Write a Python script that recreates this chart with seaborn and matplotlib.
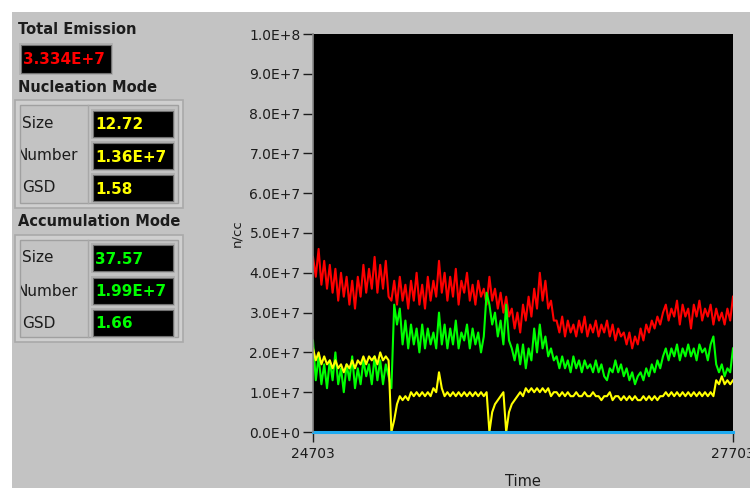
import numpy as np
import pandas as pd
import matplotlib
matplotlib.use("Agg")
import matplotlib.pyplot as plt
from matplotlib.patches import Rectangle
from matplotlib.transforms import Bbox
import seaborn as sns

# ---------------- data (values in millions n/cc, one sample every 20 time units) -------------
t_start = 24703
t_end = 27703
t_step = 20

total_red = [44, 39, 46, 37, 43, 36, 42, 35, 41, 33, 40, 34, 39, 32, 38, 31, 39, 34, 42, 35,
             41, 36, 44, 35, 42, 36, 43, 34, 33,
             38, 32, 39, 33, 37, 31, 38, 33, 40, 32, 37, 31, 39, 33, 38, 34, 43,
             35, 40, 33, 39, 34, 41, 32, 38, 35, 40, 33, 37, 32, 38, 34, 36, 32,
             39, 33, 36, 31, 35, 30, 34, 29, 31, 26, 30, 25, 32, 28, 34, 29, 36, 31,
             40, 33, 38, 31, 33, 28,
             28, 25, 29, 24, 28, 25, 27, 24, 28, 25, 29, 24, 27, 25, 28, 24, 27, 25, 28, 24,
             27, 23, 26, 24, 25, 22, 25, 21, 24, 22,
             26, 23, 27, 25, 28, 26, 29, 27, 30,
             32, 28, 31, 29, 33, 27, 32, 29, 31, 26, 32, 29, 33, 28, 31, 29, 32, 27, 31, 28,
             30, 27, 31, 28, 34]

accum_green = [23, 13, 19, 12, 17, 11, 18, 13, 20, 12, 16, 10, 17, 13, 19, 11, 16, 12, 18, 14,
               17, 12, 19, 13, 18, 12, 17, 14, 11,
               32, 27, 31, 22, 28, 21, 27, 22, 26, 20, 27, 21, 26, 22, 25, 21, 30,
               22, 27, 21, 26, 22, 28, 21, 25, 23, 27, 21, 26, 22, 25, 20, 24, 35,
               32, 27, 30, 24, 28, 22, 32, 23, 21, 18, 22, 17, 22, 16, 21, 18, 26, 20,
               27, 21, 24, 19, 21, 18,
               19, 16, 19, 16, 18, 15, 19, 16, 18, 15, 18, 16, 17, 15, 18, 15, 17, 14, 13, 16,
               15, 18, 15, 17, 14, 16, 13, 15, 12, 14,
               15, 13, 16, 14, 17, 15, 18, 16, 19,
               21, 18, 21, 19, 22, 18, 21, 19, 22, 19, 21, 18, 22, 20, 21, 18, 22, 24, 17, 15,
               17, 14, 16, 15, 21]

nucl_yellow = [21, 18, 20, 17, 19, 17, 18, 16, 18, 16, 17, 15, 17, 16, 18, 16, 18, 17, 19, 17,
               19, 18, 19, 17, 20, 18, 19, 18, 0,
               3, 7, 9, 8, 9, 8, 10, 9, 10, 9, 10, 9, 10, 9, 11, 10, 15,
               11, 9, 10, 9, 10, 9, 10, 9, 10, 9, 10, 9, 10, 9, 10, 9, 10,
               0, 5, 7, 8, 9, 10, 0, 5, 7, 8, 9, 10, 9, 11, 10, 11, 10, 11,
               10, 11, 10, 11, 9, 10,
               10, 9, 10, 9, 10, 9, 9, 10, 9, 9, 10, 9, 9, 10, 9, 9, 8, 9, 9, 10,
               8, 9, 9, 8, 9, 8, 9, 8, 9, 8,
               8, 9, 8, 9, 8, 9, 8, 9, 9,
               10, 9, 10, 9, 10, 9, 10, 9, 10, 9, 10, 9, 10, 9, 10, 9, 10, 9, 13, 12,
               14, 12, 13, 12, 13]

zero_blue = [0] * len(total_red)

y_ticks = [0, 1e7, 2e7, 3e7, 4e7, 5e7, 6e7, 7e7, 8e7, 9e7, 1e8]
y_tick_labels = ["0.0E+0", "1.0E+7", "2.0E+7", "3.0E+7", "4.0E+7", "5.0E+7",
                 "6.0E+7", "7.0E+7", "8.0E+7", "9.0E+7", "1.0E+8"]
x_ticks = [24703, 27703]
x_tick_labels = ["24703", "27703"]

total_emission = "3.334E+7"
nucl_values = ["12.72", "1.36E+7", "1.58"]
accum_values = ["37.57", "1.99E+7", "1.66"]
row_labels = ["Size", "Number", "GSD"]

time = np.arange(t_start, t_end + 1, t_step)
df = pd.DataFrame({
    "time": time,
    "red": np.array(total_red) * 1e6,
    "green": np.array(accum_green) * 1e6,
    "yellow": np.array(nucl_yellow) * 1e6,
    "blue": np.array(zero_blue) * 1e6,
})

# ---------------- figure ----------------
W, H = 750, 488
BG = "#c3c3c3"
TXT = "#1c1c1c"
plt.rcParams["font.family"] = ["DejaVu Sans"]

fig = plt.figure(figsize=(W / 100, H / 100), dpi=100, facecolor="white")


def fx(x):
    return x / W


def fy(y):
    return 1 - y / H


# gray panel (white strip on top and left)
fig.patches.append(Rectangle((fx(12), 0), 1 - fx(12), fy(12), transform=fig.transFigure,
                             facecolor=BG, edgecolor="none", zorder=-10))

# plot axes
L, R, T, B = 313, 733, 34, 432
ax = fig.add_axes([fx(L), fy(B), fx(R) - fx(L), fy(T) - fy(B)])
ax.set_zorder(5)
ax.set_facecolor("black")

sns.lineplot(data=df, x="time", y="red", color="#ff0000", lw=1.5, ax=ax)
sns.lineplot(data=df, x="time", y="green", color="#00ff00", lw=1.5, ax=ax)
sns.lineplot(data=df, x="time", y="yellow", color="#ffff00", lw=1.5, ax=ax)
sns.lineplot(data=df, x="time", y="blue", color="#1eaaf0", lw=2.2, ax=ax, clip_on=False)

ax.set_xlim(t_start, t_end)
ax.set_ylim(0, 1e8)
ax.set_yticks(y_ticks)
ax.set_yticklabels(y_tick_labels)
ax.set_xticks(x_ticks)
ax.set_xticklabels(x_tick_labels)
ax.tick_params(axis="both", colors=TXT, labelsize=10, length=7, width=1, direction="out", pad=2)
ax.tick_params(axis="x", pad=4)
for s in ["top", "right", "bottom"]:
    ax.spines[s].set_visible(False)
ax.spines["left"].set_color("#8a8a8a")
ax.spines["left"].set_linewidth(1.2)
ax.set_xlabel("Time", fontsize=10.5, color=TXT, labelpad=9)
ax.set_ylabel("n/cc", fontsize=9.5, color=TXT, labelpad=4)
ax.grid(False)

# ---------------- left indicator panel ----------------
def box(x0, y0, x1, y1, face, edge, lw=1.0, z=1):
    fig.patches.append(Rectangle((fx(x0), fy(y1)), fx(x1) - fx(x0), fy(y0) - fy(y1),
                                 transform=fig.transFigure, facecolor=face, edgecolor=edge,
                                 linewidth=lw, zorder=z))


def indicator(x0, y0, x1, y1, text, color):
    box(x0 - 2, y0 - 2, x1 + 2, y1 + 2, "#b0b0b0", "none", z=1)
    box(x0, y0, x1, y1, "black", "#707070", lw=0.8, z=2)
    fig.text(fx(x0 + 2), fy((y0 + y1) / 2 + 1), text, color=color, fontsize=11,
             fontweight="bold", va="center", ha="left", zorder=3)


fig.text(fx(18), fy(29), "Total Emission", fontsize=10.5, fontweight="bold", color=TXT,
         va="center", ha="left")
indicator(21, 45, 111, 73, total_emission, "#ff0000")


def cluster(title, title_y, fy0, fy1, rows_y, values, color):
    fig.text(fx(18), fy(title_y), title, fontsize=10.5, fontweight="bold", color=TXT,
             va="center", ha="left")
    box(15, fy0, 183, fy1, "#cfcfcf", "#a9a9a9", lw=1.2, z=1)
    box(20, fy0 + 5, 178, fy1 - 5, BG, "#a0a0a0", lw=1.0, z=1)
    fig.lines.append(plt.Line2D([fx(88), fx(88)], [fy(fy0 + 5), fy(fy1 - 5)],
                                transform=fig.transFigure, color="#a8a8a8", lw=1.0))
    clip = Bbox.from_extents(21, 0, 300, H)
    for lab, yc, val in zip(row_labels, rows_y, values):
        xpos = 16 if lab == "Number" else 22
        t = fig.text(fx(xpos), fy(yc), lab, fontsize=11, color=TXT, va="center", ha="left")
        t.set_clip_box(clip)
        t.set_clip_on(True)
        indicator(93, yc - 13, 173, yc + 13, val, color)


cluster("Nucleation Mode", 88, 100, 208, [124, 156, 188], nucl_values, "#ffff00")
cluster("Accumulation Mode", 222, 235, 342, [258, 291, 323], accum_values, "#00ff00")

fig.savefig("out.png", dpi=100, facecolor=fig.get_facecolor())
